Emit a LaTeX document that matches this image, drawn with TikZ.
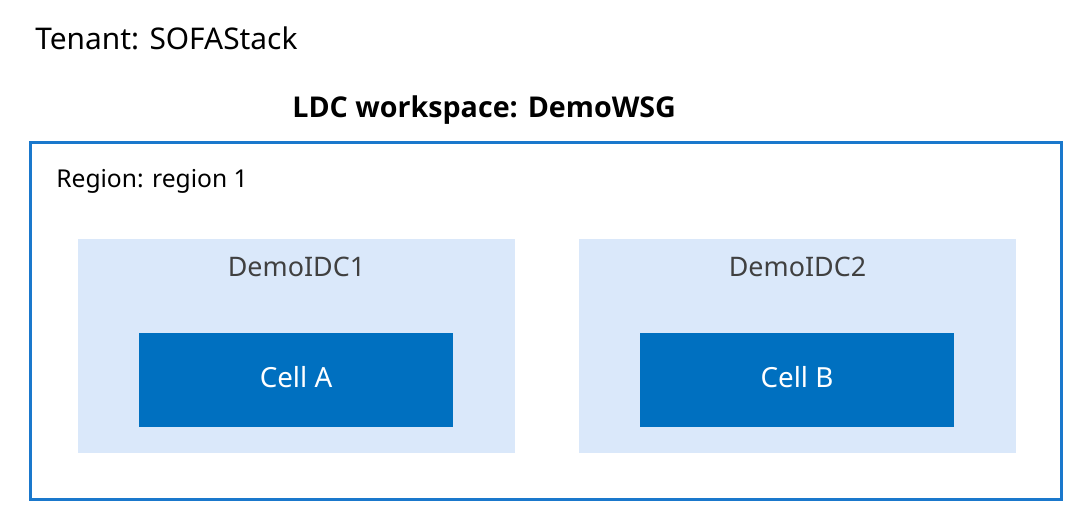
\documentclass[tikz,border=0pt]{standalone}
\usepackage{fontspec}
\setmainfont{Noto Sans}
\newfontfamily\titlefont{Open Sans}
\definecolor{regionblue}{RGB}{26,120,204}
\definecolor{idcfill}{RGB}{218,232,250}
\definecolor{cellblue}{RGB}{0,112,192}
\definecolor{idctext}{RGB}{64,64,64}
\begin{document}
\begin{tikzpicture}[
    x=0.02cm, y=-0.02cm,
    label/.style={inner sep=0pt, anchor=base west, font=\fontsize{17}{20}\selectfont},
    region/.style={rectangle, draw=regionblue, line width=1.7pt, fill=white, minimum width=20.64cm, minimum height=7.16cm},
    idc/.style={rectangle, fill=idcfill, minimum width=8.74cm, minimum height=4.28cm},
    idcname/.style={inner sep=0pt, anchor=base, text=idctext, font=\fontsize{15.3}{18}\selectfont},
    cell/.style={rectangle, fill=cellblue, minimum width=6.28cm, minimum height=1.88cm},
    cellname/.style={inner sep=0pt, anchor=base, text=white, font=\fontsize{15.8}{18}\selectfont}
]
    \useasboundingbox (0,0) rectangle (1092,531);

    % Titles
    \node[label] (tenant) at (35,49) {Tenant: SOFAStack};
    \node[label, font=\titlefont\fontsize{16.3}{19}\selectfont\bfseries] (ldc) at (292,117) {LDC workspace: DemoWSG};

    % Region
    \node[region] (reg) at (546,321) {};
    \node[label, font=\fontsize{14}{17}\selectfont] (reglabel) at (56,187) {Region: region 1};

    % IDCs
    \node[idc] (idc1) at (296.5,346) {};
    \node[idc] (idc2) at (797.5,346) {};
    \node[idcname] (idc1name) at (296.5,276) {DemoIDC1};
    \node[idcname] (idc2name) at (797.5,276) {DemoIDC2};

    % Cells
    \node[cell] (cella) at (296,380) {};
    \node[cell] (cellb) at (797,380) {};
    \node[cellname] (cellaname) at (296,387) {Cell A};
    \node[cellname] (cellbname) at (797,387) {Cell B};

\end{tikzpicture}
\end{document}
